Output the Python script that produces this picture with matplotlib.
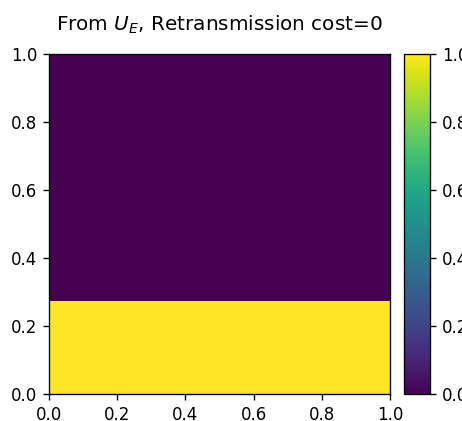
import matplotlib
matplotlib.use("Agg")
import matplotlib.pyplot as plt
import numpy as np

# Data: regions along the y axis and their values
x_edges = [0.0, 1.0]
y_edges = [0.0, 0.275, 1.0]
values = [[1.0],
          [0.0]]

DPI = 120
fig = plt.figure(figsize=(462/DPI, 421/DPI), dpi=DPI)
ax = fig.add_axes([49/462, 1-394/421, (390-49)/462, (394-54)/421])
cax = fig.add_axes([404/462, 1-394/421, (430-404)/462, (394-54)/421])

mesh = ax.pcolormesh(x_edges, y_edges, np.array(values), cmap="viridis", vmin=0, vmax=1)
ax.set_xlim(0, 1)
ax.set_ylim(0, 1)
ax.set_title("From $U_E$, Retransmission cost=0", fontsize=12, pad=14)
fig.colorbar(mesh, cax=cax)

fig.savefig("out.png", dpi=DPI)
